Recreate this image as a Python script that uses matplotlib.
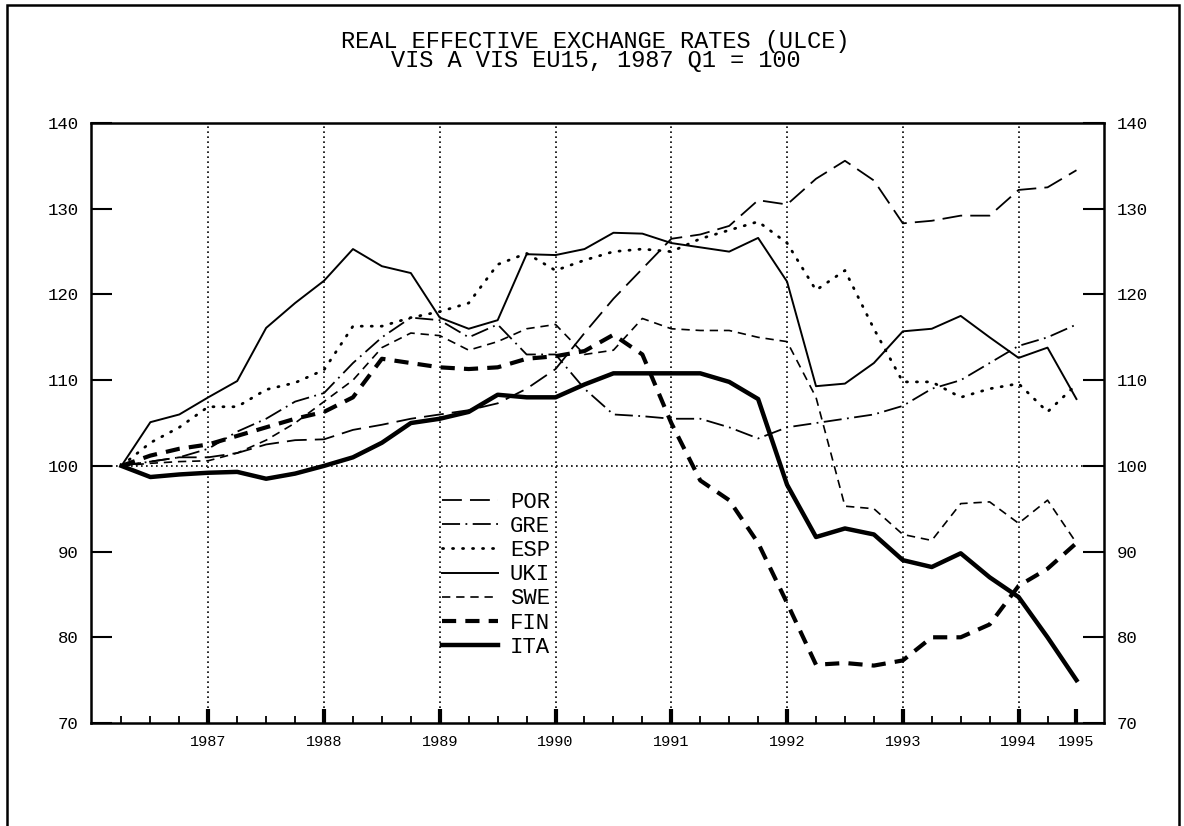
import matplotlib
matplotlib.use("Agg")
import matplotlib.pyplot as plt
from matplotlib.patches import Rectangle
import numpy as np

plt.rcParams['font.family'] = ['Liberation Mono', 'DejaVu Sans Mono']

# quarterly observations, first point = 1987 Q1 = 100
quarters = np.arange(34)

por = [100, 100.5, 101, 101, 101.5, 102.5, 103, 103.1, 104.2, 104.8, 105.5, 106,
       106.5, 107.3, 109, 111.3, 115.5, 119.5, 123, 126.5, 127, 128, 131, 130.5,
       133.5, 135.6, 133.3, 128.3, 128.6, 129.2, 129.2, 132.2, 132.5, 134.5]
gre = [100, 100.5, 101, 102, 104, 105.5, 107.5, 108.5, 112, 115, 117.3, 117,
       115, 116.5, 113, 113, 109, 106, 105.8, 105.5, 105.5, 104.5, 103.2, 104.5,
       105, 105.5, 106, 107, 109, 110, 112, 114, 115, 116.5]
esp = [100, 102.7, 104.5, 106.9, 106.9, 108.9, 109.7, 111.2, 116.3, 116.3, 117.3, 118,
       119, 123.5, 124.8, 122.8, 124, 125, 125.3, 125, 126.5, 127.5, 128.5, 126,
       120.5, 122.8, 116, 109.8, 109.8, 108, 109, 109.6, 106.3, 109.5]
uki = [100, 105.1, 106, 108, 109.9, 116.1, 119, 121.6, 125.3, 123.3, 122.5, 117.3,
       116, 117, 124.7, 124.6, 125.3, 127.2, 127.1, 126, 125.5, 125, 126.6, 121.5,
       109.3, 109.6, 112, 115.7, 116, 117.5, 115, 112.6, 113.8, 107.8]
swe = [100, 100.3, 100.5, 100.6, 101.5, 103, 105, 107.5, 110, 113.8, 115.5, 115.2,
       113.5, 114.5, 116, 116.5, 113, 113.5, 117.2, 116, 115.8, 115.8, 115, 114.5,
       108, 95.3, 95, 92, 91.3, 95.6, 95.8, 93.3, 96, 91]
fin = [100, 101.2, 102, 102.5, 103.5, 104.5, 105.5, 106.3, 108, 112.5, 112, 111.5,
       111.3, 111.5, 112.5, 112.8, 113.4, 115.3, 113, 105, 98.3, 96, 91, 84,
       76.8, 77, 76.7, 77.3, 80, 80, 81.5, 86, 88, 91]
ita = [100, 98.7, 99, 99.2, 99.3, 98.5, 99.1, 100, 101, 102.7, 105, 105.5,
       106.3, 108.3, 108, 108, 109.5, 110.8, 110.8, 110.8, 110.8, 109.8, 107.8, 97.8,
       91.7, 92.7, 92, 89, 88.2, 89.8, 87, 84.7, 80, 75]

year_pos = [3, 7, 11, 15, 19, 23, 27, 31, 33]
year_labels = ['1987', '1988', '1989', '1990', '1991', '1992', '1993', '1994', '1995']
yticks = [70, 80, 90, 100, 110, 120, 130, 140]

fig = plt.figure(figsize=(11.84, 8.26), dpi=100)
ax = fig.add_axes([0.0769, 0.1247, 0.8555, 0.7263])

ax.plot(quarters, por, color='k', lw=1.3, dashes=[11, 4.5], label='POR')
ax.plot(quarters, gre, color='k', lw=1.3, dashes=[10, 3, 1, 3], label='GRE')
ax.plot(quarters, esp, color='k', lw=2.0, dashes=[0.4, 3.2], dash_capstyle='round', label='ESP')
ax.plot(quarters, uki, color='k', lw=1.4, label='UKI')
ax.plot(quarters, swe, color='k', lw=1.2, dashes=[5, 3.5], label='SWE')
ax.plot(quarters, fin, color='k', lw=3.0, dashes=[3.4, 2.2], label='FIN')
ax.plot(quarters, ita, color='k', lw=3.2, label='ITA')

ax.set_xlim(-1.05, 33.95)
ax.set_ylim(70, 140)

# dotted reference lines
for p in year_pos[:-1]:
    ax.axvline(p, color='k', lw=1.2, ls=(0, (1, 2)), zorder=0)
ax.axhline(100, color='k', lw=1.2, ls=(0, (1, 2)), zorder=0)

ax.set_yticks(yticks)
ax.set_xticks(year_pos)
ax.set_xticklabels(year_labels)
ax.set_xticks(quarters, minor=True)
ax.tick_params(axis='y', which='major', direction='in', length=15, width=1.5,
               left=True, right=True, labelleft=True, labelright=True,
               labelsize=12.5, pad=9)
ax.tick_params(axis='x', which='major', direction='in', length=10, width=3,
               labelsize=11, pad=9)
ax.tick_params(axis='x', which='minor', direction='in', length=5, width=1.3)
for s in ax.spines.values():
    s.set_linewidth(1.8)

leg = ax.legend(loc='upper left', bbox_to_anchor=(0.3465, 0.385), frameon=False,
                handlelength=2.5, handletextpad=0.55, labelspacing=0.14,
                fontsize=16, borderaxespad=0, borderpad=0)

fig.text(0.503, 1 - 51 / 826,
         'REAL EFFECTIVE EXCHANGE RATES (ULCE)\nVIS A VIS EU15, 1987 Q1 = 100',
         ha='center', va='center', fontsize=17, linespacing=0.82)

fig.patches.append(Rectangle((0.006, -0.01), 0.99, 1.004, transform=fig.transFigure,
                             fill=False, lw=1.8, color='k'))

fig.savefig('out.png', dpi=100)
